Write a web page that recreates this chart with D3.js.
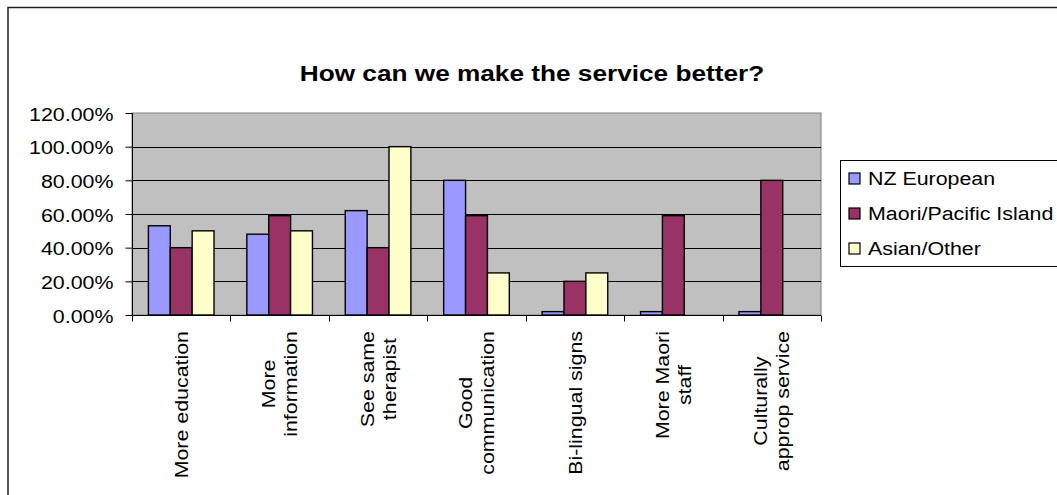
<!DOCTYPE html>
<html><head><meta charset="utf-8">
<script src="https://cdn.jsdelivr.net/npm/d3@7"></script>
<style>html,body{margin:0;padding:0;background:#fff;}svg{display:block;font-family:Arial,"Liberation Sans",sans-serif;}</style>
</head><body>
<svg id="chart" width="1057" height="495"></svg>
<script>
const categories = [
  ["More education"],
  ["More", "information"],
  ["See same", "therapist"],
  ["Good", "communication"],
  ["Bi-lingual signs"],
  ["More Maori", "staff"],
  ["Culturally", "approp service"]
];
const seriesNames = ["NZ European", "Maori/Pacific Island", "Asian/Other"];
const nzEuropean = [0.53, 0.48, 0.62, 0.80, 0.02, 0.02, 0.02];
const maoriPacific = [0.40, 0.59, 0.40, 0.59, 0.20, 0.59, 0.80];
const asianOther = [0.50, 0.50, 1.00, 0.25, 0.25, 0, 0];
const seriesColors = ["#9999ff", "#993366", "#ffffcc"];
const yTicks = [0, 0.2, 0.4, 0.6, 0.8, 1.0, 1.2];
const titleText = "How can we make the service better?";

const seriesValues = [nzEuropean, maoriPacific, asianOther];
const SX = 1.15;
const svg = d3.select("#chart");

// outer chart border
svg.append("rect").attr("x", 8).attr("y", 7.5).attr("width", 1100).attr("height", 520)
  .attr("fill", "#fff").attr("stroke", "#222").attr("stroke-width", 1.5);

const plot = {left: 132, right: 821, top: 113, bottom: 315};
const x = d3.scaleBand().domain(d3.range(categories.length)).range([plot.left, plot.right]).paddingInner(0).paddingOuter(0);
const y = d3.scaleLinear().domain([0, 1.2]).range([plot.bottom, plot.top]);

// plot area
svg.append("rect").attr("x", plot.left).attr("y", plot.top)
  .attr("width", plot.right - plot.left).attr("height", plot.bottom - plot.top)
  .attr("fill", "#c0c0c0").attr("stroke", "#808080").attr("stroke-width", 1);

// gridlines
svg.append("g").selectAll("line").data(yTicks.filter(d => d > 0 && d < 1.2)).join("line")
  .attr("x1", plot.left).attr("x2", plot.right)
  .attr("y1", d => Math.round(y(d)) + 0.5).attr("y2", d => Math.round(y(d)) + 0.5)
  .attr("stroke", "#000").attr("stroke-width", 1);

// bars
const bw = x.bandwidth() / 4.5;
const gap = bw * 0.75;
seriesValues.forEach((vals, si) => {
  svg.append("g").selectAll("rect").data(vals.map((v, i) => ({v, i})).filter(d => d.v > 0)).join("rect")
    .attr("x", d => x(d.i) + gap + si * bw)
    .attr("y", d => y(d.v))
    .attr("width", bw)
    .attr("height", d => y(0) - y(d.v))
    .attr("fill", seriesColors[si])
    .attr("stroke", "#000").attr("stroke-width", 1.4);
});

// y axis
const yAxis = d3.axisLeft(y).tickValues(yTicks).tickSize(7).tickFormat(d => (d * 100).toFixed(2) + "%");
const ya = svg.append("g").attr("transform", `translate(${plot.left + 0.5},0)`).call(yAxis);
ya.select(".domain").attr("stroke", "#000").attr("d", `M0,${plot.top}V${plot.bottom}`);
ya.selectAll(".tick line").attr("stroke", "#000");
ya.selectAll(".tick text").remove();
ya.selectAll(".tick").append("text")
  .attr("transform", `translate(-19,7) scale(${SX},1)`)
  .attr("text-anchor", "end").attr("fill", "#000")
  .style("font-size", "18.6px").style("font-family", "Arial, 'Liberation Sans', sans-serif")
  .text(d => (d * 100).toFixed(2) + "%");

// x axis
const xa = svg.append("g").attr("transform", `translate(0,${plot.bottom + 0.5})`);
xa.append("line").attr("x1", plot.left).attr("x2", plot.right).attr("stroke", "#000");
const boundaries = d3.range(categories.length + 1).map(i => plot.left + i * x.bandwidth());
xa.selectAll("line.tk").data(boundaries).join("line").attr("class", "tk")
  .attr("x1", d => Math.round(d) + 0.5).attr("x2", d => Math.round(d) + 0.5)
  .attr("y1", 0).attr("y2", 6).attr("stroke", "#000");

// category labels
const fs = 18.6, lh = 22, topY = 331;
categories.forEach((lines, i) => {
  const cx = x(i) + x.bandwidth() / 2;
  const g = svg.append("g");
  const texts = lines.map((ln, li) => g.append("text")
    .attr("text-anchor", "middle").attr("fill", "#000")
    .style("font-size", fs + "px")
    .text(ln));
  const maxLen = d3.max(texts, t => t.node().getComputedTextLength()) * SX;
  const cy = topY + maxLen / 2;
  texts.forEach((t, li) => {
    const off = (li - (lines.length - 1) / 2) * lh + 0.36 * fs;
    t.attr("transform", `translate(${cx + off},${cy}) rotate(-90) scale(${SX},1)`);
  });
});

// title
svg.append("text").attr("transform", `translate(532,81) scale(${SX},1)`)
  .attr("text-anchor", "middle").attr("font-weight", "bold")
  .style("font-size", "22.8px").attr("fill", "#000").text(titleText);

// legend
const lg = svg.append("g");
lg.append("rect").attr("x", 840.5).attr("y", 160.5).attr("width", 240).attr("height", 106)
  .attr("fill", "#fff").attr("stroke", "#000").attr("stroke-width", 1);
const legendY = [178, 213, 248];
seriesNames.forEach((name, i) => {
  lg.append("rect").attr("x", 849).attr("y", legendY[i] - 5).attr("width", 11).attr("height", 11)
    .attr("fill", seriesColors[i]).attr("stroke", "#000").attr("stroke-width", 1.2);
  lg.append("text").attr("transform", `translate(868,${legendY[i] + 7}) scale(${SX},1)`)
    .style("font-size", "18.6px").attr("fill", "#000").text(name);
});
</script>
</body></html>
